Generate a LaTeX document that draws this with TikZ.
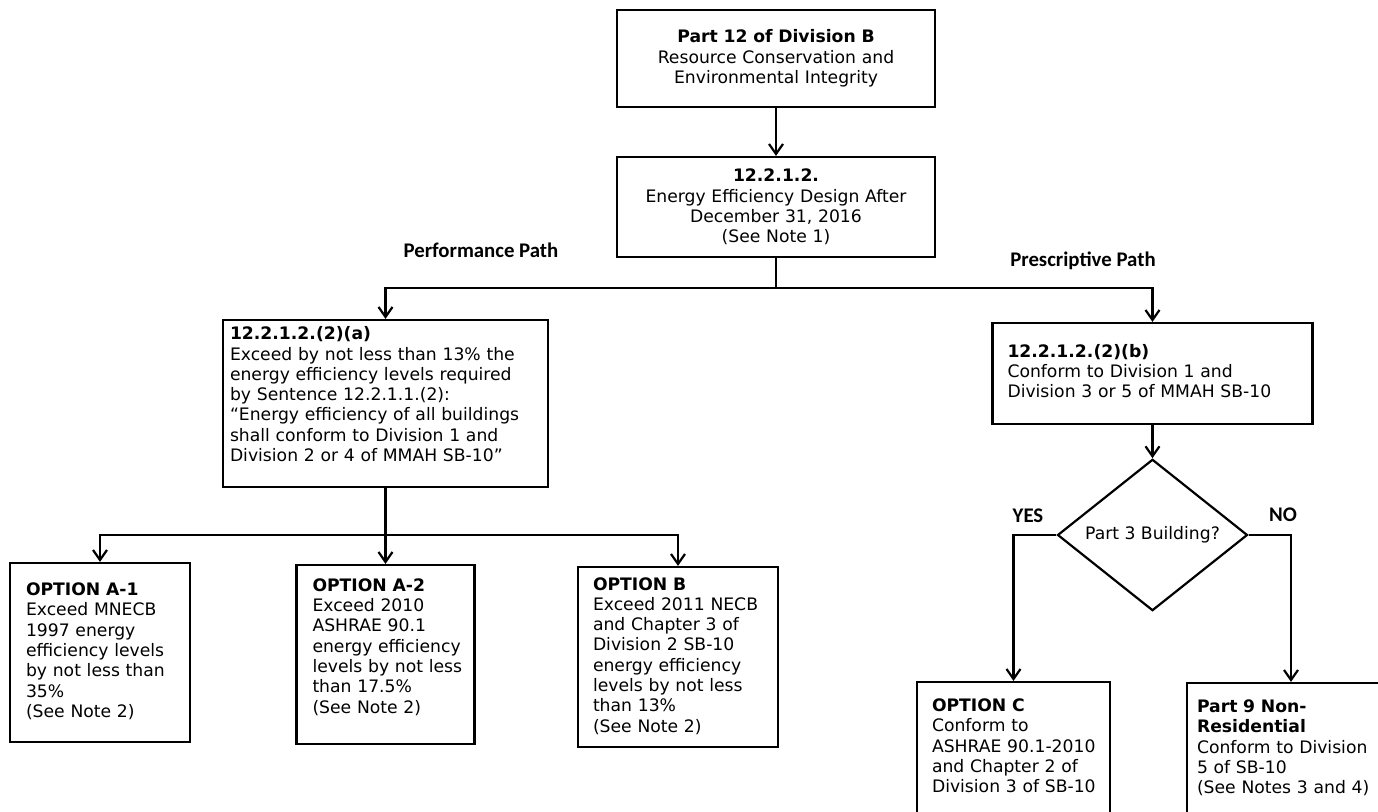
\documentclass[tikz,border=0pt]{standalone}
\usepackage{fontspec}
\setmainfont{DejaVu Sans}
\newfontfamily\calibri{Carlito}
\usetikzlibrary{shapes.geometric,arrows.meta}
\newcommand{\boxfont}{\fontsize{8.6}{10.15}\selectfont}
\newcommand{\pathfont}{\calibri\bfseries\fontsize{10.4}{12}\selectfont}
\newcommand{\lowpad}[1]{\rule[-#1]{0pt}{1pt}}
\newcommand{\boxlines}[1]{\begin{tabular}{@{}l@{}}#1\end{tabular}}
\renewcommand{\arraystretch}{1}
\tikzstyle{trunk} = [draw, line width=1.1pt]
\tikzstyle{line} = [draw, line width=1.1pt, -{Straight Barb[length=5pt,width=7pt,line width=1.1pt]}]
\tikzstyle{block} = [draw, rectangle, line width=1.1pt, font=\boxfont, align=left, inner sep=0pt]
\tikzstyle{decision} = [draw, diamond, line width=1.1pt, font=\boxfont, inner sep=0pt, minimum width=95pt, minimum height=65pt]
\tikzstyle{pathlabel} = [font=\pathfont, inner sep=0pt]

\begin{document}
\begin{tikzpicture}[x=0.5pt, y=-0.5pt]
    \useasboundingbox (0,0) rectangle (1378,812);
    \clip (0,0) rectangle (1378,812);
        \node[block, align=center, text width=155pt, minimum width=159pt, minimum height=48.5pt] (part12) at (776,58.5)
            {\textbf{Part 12 of Division B}\\Resource Conservation and\\Environmental Integrity};
        \node[block, align=center, text width=155pt, minimum width=159pt, minimum height=50pt] (eedesign) at (776,207)
            {\textbf{12.2.1.2.}\\Energy Efficiency Design After\\December 31, 2016\\(See Note 1)};
        \node[block, text width=155.5pt, minimum width=162.5pt, minimum height=83.5pt] (perf) at (385.5,403.5)
            {\boxlines{\textbf{12.2.1.2.(2)(a)}\\Exceed by not less than 13\% the\\energy efficiency levels required\\by Sentence 12.2.1.1.(2):\\``Energy efficiency of all buildings\\shall conform to Division 1 and\\Division 2 or 4 of MMAH SB-10''\lowpad{10pt}}};
        \node[block, text width=145pt, minimum width=160pt, minimum height=50.5pt] (presc) at (1152.5,373.5)
            {\boxlines{\textbf{12.2.1.2.(2)(b)}\\Conform to Division 1 and\\Division 3 or 5 of MMAH SB-10}};
        \node[block, text width=74pt, minimum width=90pt, minimum height=89.5pt] (opta1) at (100,652.5)
            {\boxlines{\textbf{OPTION A-1}\\Exceed MNECB\\1997 energy\\efficiency levels\\by not less than\\35\%\\(See Note 2)}};
        \node[block, text width=73pt, minimum width=89pt, minimum height=89.5pt] (opta2) at (385.5,654.5)
            {\boxlines{\textbf{OPTION A-2}\\Exceed 2010\\ASHRAE 90.1\\energy efficiency\\levels by not less\\than 17.5\%\\(See Note 2)\lowpad{9.5pt}}};
        \node[block, text width=85pt, minimum width=100pt, minimum height=90pt] (optb) at (678,657)
            {\boxlines{\textbf{OPTION B}\\Exceed 2011 NECB\\and Chapter 3 of\\Division 2 SB-10\\energy efficiency\\levels by not less\\than 13\%\\(See Note 2)}};
        \node[decision] (part3) at (1152.5,535) {Part 3 Building?};
        \node[block, text width=81.5pt, minimum width=96.5pt, minimum height=66pt] (optc) at (1013.5,748)
            {\boxlines{\textbf{OPTION C}\\Conform to\\ASHRAE 90.1-2010\\and Chapter 2 of\\Division 3 of SB-10}};
        \node[block, text width=94pt, minimum width=104pt, minimum height=66pt] (part9) at (1291,749)
            {\boxlines{\textbf{Part 9 Non-}\\\textbf{Residential}\\Conform to Division\\5 of SB-10\\(See Notes 3 and 4)}};
        % path labels
        \node[pathlabel] (perflabel) at (481,250) {Performance Path};
        \node[pathlabel] (presclabel) at (1083,261) {Prescriptive Path};
        \node[pathlabel] (yes) at (1028,516) {YES};
        \node[pathlabel] (no) at (1283,515) {NO};
        % connectors
        \coordinate (split1) at (776,288);
        \coordinate (split2) at (385.5,535);
        \path[line] (part12) -- (eedesign);
        \path[trunk] (eedesign.south) -- (split1);
        \path[line] (split1) -| (perf.north);
        \path[line] (split1) -| (presc.north);
        \path[trunk] (perf.south) -- (split2);
        \path[line] (split2) -| (opta1.north);
        \path[line] (split2) -- (opta2.north);
        \path[line] (split2) -| (optb.north);
        \path[line] (presc) -- (part3);
        \path[line] (part3.west) -| (optc.north);
        \path[line] (part3.east) -| (part9.north);
    \end{tikzpicture}
\end{document}
